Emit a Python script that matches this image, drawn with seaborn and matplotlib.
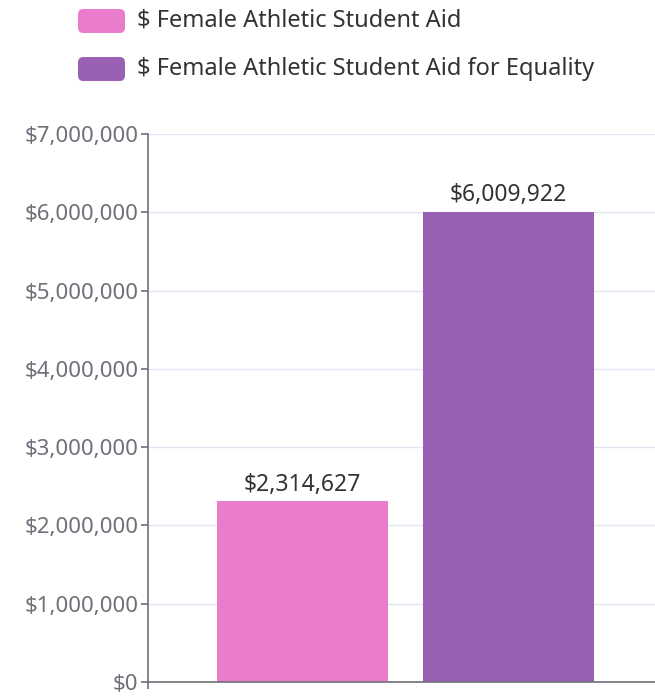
import matplotlib
matplotlib.use("Agg")
import matplotlib.pyplot as plt
from matplotlib.patches import FancyBboxPatch
from matplotlib.ticker import FuncFormatter
import seaborn as sns
import pandas as pd

categories = ["Female Athletic Student Aid"]
series = ["$ Female Athletic Student Aid", "$ Female Athletic Student Aid for Equality"]
values = [2314627, 6009922]
colors = ["#ea7ccc", "#9a60b4"]
yticks = [0, 1000000, 2000000, 3000000, 4000000, 5000000, 6000000, 7000000]

df = pd.DataFrame({"category": categories * len(series), "series": series, "value": values})

sns.set_theme(style="white")
plt.rcParams["font.family"] = ["Noto Sans", "DejaVu Sans"]

W, H = 655, 696
fig = plt.figure(figsize=(W / 100, H / 100), dpi=100)
ax = fig.add_axes([148 / W, (H - 682) / H, 515 / W, 548 / H])

sns.barplot(data=df, x="category", y="value", hue="series", palette=colors,
            width=0.8, gap=0.17, ax=ax, legend=False, saturation=1, linewidth=0)

ax.set_xlim(-0.5, 0.5)
ax.set_ylim(0, 7000000)
ax.set_yticks(yticks)
ax.yaxis.set_major_formatter(FuncFormatter(lambda v, p: "${:,.0f}".format(v)))
ax.set_xticks([-0.5])
ax.set_xticklabels([""])
ax.set_xlabel("")
ax.set_ylabel("")
ax.grid(axis="y", color="#e0e6f1", linewidth=1)
ax.set_axisbelow(True)
for s in ["top", "right"]:
    ax.spines[s].set_visible(False)
for s in ["left", "bottom"]:
    ax.spines[s].set_color("#6e7079")
    ax.spines[s].set_linewidth(1.2)
ax.tick_params(axis="y", length=5, width=1.2, color="#6e7079", labelcolor="#6e7079",
               labelsize=16, pad=2, left=True)
ax.tick_params(axis="x", length=5, width=1.2, color="#6e7079", bottom=True)

for cont in ax.containers:
    for bar in cont:
        h = bar.get_height()
        ax.annotate("${:,.0f}".format(h), (bar.get_x() + bar.get_width() / 2, h),
                    xytext=(0, 3), textcoords="offset points", ha="center", va="bottom",
                    fontsize=16.5, color="#333333")

# legend
for i, (name, c) in enumerate(zip(series, colors)):
    yc = 21 + i * 48
    p = FancyBboxPatch((78 / W, (H - yc - 12) / H), 47 / W, 24 / H,
                       boxstyle="round,pad=0,rounding_size=0.008",
                       transform=fig.transFigure, facecolor=c, edgecolor="none")
    fig.patches.append(p)
    fig.text(137 / W, (H - yc) / H, name, ha="left", va="center", fontsize=17, color="#333333")

fig.savefig("out.png", dpi=100)
